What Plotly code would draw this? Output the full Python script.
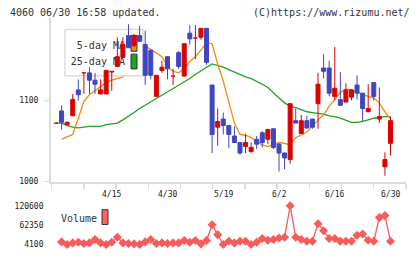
import plotly.graph_objects as go

# ---------------- data ----------------
date_idx = [10, 20, 30, 40, 50, 60]
date_labels = ["4/15", "4/30", "5/19", "6/2", "6/16", "6/30"]

opens = [1072, 1087, 1070, 1081, 1113, 1134, 1134, 1125, 1108, 1108,
         1135, 1142, 1153, 1180, 1168, 1180, 1169, 1162, 1105, 1137,
         1154, 1130, 1159, 1130, 1183, 1177, 1178, 1189, 1119, 1067,
         1077, 1069, 1056, 1048, 1043, 1037, 1052, 1060, 1052, 1065,
         1046, 1035, 1027, 1075, 1059, 1075, 1077, 1096, 1140, 1140,
         1105, 1101, 1098, 1104, 1119, 1109, 1086, 1122, 1077, 1018,
         1047]
highs = [1072, 1094, 1074, 1108, 1126, 1134.5, 1141, 1134, 1126, 1138,
         1136, 1178, 1178, 1194, 1182, 1192, 1186, 1162, 1131, 1149,
         1154, 1139, 1161, 1170, 1193, 1193, 1189, 1189, 1119, 1090,
         1085, 1069, 1068, 1048, 1059, 1048, 1056, 1062, 1065, 1065,
         1047, 1036, 1096, 1090, 1082, 1081, 1077, 1134, 1157, 1149,
         1166, 1135, 1121, 1114, 1131, 1109, 1120, 1122, 1116, 1036,
         1080]
lows = [1072, 1064, 1070, 1081, 1100, 1108, 1108, 1108, 1108, 1108,
        1112, 1142, 1153, 1165, 1166, 1173, 1119, 1126, 1105, 1134,
        1126, 1119, 1139, 1130, 1169, 1151, 1175, 1144, 1035, 1044,
        1058, 1041, 1048, 1033, 1035, 1035, 1040, 1042, 1046, 1040,
        1012, 1015, 1022, 1072, 1059, 1065, 1065, 1065, 1127, 1105,
        1100, 1094, 1098, 1100, 1101, 1074, 1086, 1100, 1072, 1007,
        1032]
closes = [1072, 1073, 1073, 1101, 1107, 1134.5, 1125, 1120, 1113, 1137,
          1136, 1154, 1169, 1165, 1180, 1173, 1131, 1131, 1131, 1141,
          1139, 1130.5, 1142, 1170, 1176, 1177.5, 1189, 1147, 1058, 1074,
          1069, 1058, 1048, 1035, 1048, 1042, 1046, 1048, 1064, 1042,
          1035, 1029, 1096, 1072, 1075, 1066, 1067, 1120, 1136, 1109,
          1115, 1094, 1113, 1113, 1109, 1090, 1090, 1105, 1080, 1027,
          1075]

ma5 = [None, 1052, 1055, 1058, 1078, 1099, 1107, 1112, 1118, 1122,
       1125, 1127, 1129, 1140, 1152, 1160, 1167, 1163, 1158, 1154,
       1142, 1136, 1134, 1139, 1148, 1154, 1162, 1171, 1170, 1145,
       1124, 1099, 1072, 1058, 1057, 1054, 1049, 1045, 1043, 1046,
       1048, 1047, 1045, 1054, 1057, 1061, 1068, 1076, 1082, 1093,
       1101, 1110, 1114, 1113, 1110, 1107, 1105, 1103, 1097, 1086,
       1077]
ma25 = [1072, 1072, 1069, 1067, 1066, 1067, 1068, 1068, 1068, 1070,
        1071, 1072, 1076, 1080, 1085, 1090, 1094, 1098, 1102, 1106,
        1111, 1115, 1119, 1123, 1127, 1132, 1137, 1141, 1145, 1143,
        1141, 1138, 1135, 1132, 1129, 1127, 1124, 1120, 1116, 1109,
        1103, 1097, 1093, 1091, 1088, 1086, 1085, 1084, 1083, 1081,
        1080, 1078, 1075, 1073, 1073, 1074, 1076, 1078, 1079, 1080,
        1080]
volume = [None, 11800, 4100, 8800, 10900, 7100, 8800, 18900, 8800, 4100,
          10900, 25700, 8800, 7100, 5900, 4100, 11800, 18900, 7100, 8800,
          7100, 8800, 8800, 15900, 10900, 15900, 5900, 15900, 63400, 33700,
          4100, 13900, 8800, 13900, 13900, 4100, 10900, 21900, 16800, 18900,
          23700, 25700, 120600, 25700, 18900, 13900, 13900, 66300, 45600, 21900,
          21900, 13900, 13900, 13900, 31700, 35500, 16800, 13900, 85000, 91000,
          13900]

price_ticks = [1000, 1100]
volume_ticks = [4100, 62350, 120600]

# ---------------- layout constants (pixels) ----------------
W, H = 420, 259
X0_PX, X1_PX = 50.5, 406.0
CANDLE0_PX, STEP_PX = 56.0, 5.575
PY_TOP, PY_BOT = 18.0, 185.0
VY_TOP, VY_BOT = 203.0, 253.0
x_range = [(X0_PX - CANDLE0_PX) / STEP_PX, (X1_PX - CANDLE0_PX) / STEP_PX]
price_range = [999.1, 1202.1]
vol_range = [-9830, 138380]

RED, BLUE = "#dc0000", "#3f46c0"
ORANGE, GREEN = "#f08c10", "#1ea51e"
VOLC = "#f65c5c"
FONT = "DejaVu Sans Mono"


def px_x(px):
    return x_range[0] + (px - X0_PX) / (X1_PX - X0_PX) * (x_range[1] - x_range[0])


def px_price(py):
    return price_range[0] + (PY_BOT - py) / (PY_BOT - PY_TOP) * (price_range[1] - price_range[0])


def rect(x0, y0, x1, y1):
    return ([px_x(x0), px_x(x1), px_x(x1), px_x(x0), px_x(x0)],
            [px_price(y0), px_price(y0), px_price(y1), px_price(y1), px_price(y0)])


n = len(opens)
idx = list(range(n))
half = 2.0 / STEP_PX

fig = go.Figure()

# moving averages
fig.add_trace(go.Scatter(x=idx, y=ma25, mode="lines", line=dict(color=GREEN, width=1.3),
                         xaxis="x", yaxis="y", hoverinfo="skip"))
fig.add_trace(go.Scatter(x=idx, y=ma5, mode="lines", line=dict(color=ORANGE, width=1.3),
                         xaxis="x", yaxis="y", hoverinfo="skip"))

# legend box: above the MA lines, below the candles
bx, by = rect(65, 30, 143, 77)
fig.add_trace(go.Scatter(x=bx, y=by, mode="lines", fill="toself", fillcolor="white",
                         line=dict(color="#dcdcdc", width=1.5), hoverinfo="skip"))
fig.add_trace(go.Scatter(x=[px_x(125), px_x(125)], y=[px_price(47.5), px_price(63.5)],
                         mode="text", text=["5-day MA", "25-day MA"], textposition="middle left",
                         textfont=dict(family=FONT, size=10, color="#333"), hoverinfo="skip"))
for (y0, y1, col) in [(36, 52, ORANGE), (55, 70, GREEN)]:
    sx, sy = rect(131, y0, 137, y1)
    fig.add_trace(go.Scatter(x=sx, y=sy, mode="lines", fill="toself", fillcolor=col,
                             line=dict(color="#333", width=1), hoverinfo="skip"))

# candles (red = close >= open, blue = close < open)
for col, cond in [(RED, lambda i: closes[i] >= opens[i]), (BLUE, lambda i: closes[i] < opens[i])]:
    sel = [i for i in idx if cond(i)]
    wx, wy, bxs, bys = [], [], [], []
    for i in sel:
        wx += [i, i, None]
        wy += [lows[i], highs[i], None]
        o, c = opens[i], closes[i]
        bxs += [i - half, i + half, i + half, i - half, i - half, None]
        bys += [o, o, c, c, o, None]
    fig.add_trace(go.Scatter(x=wx, y=wy, mode="lines", line=dict(color=col, width=1),
                             hoverinfo="skip"))
    fig.add_trace(go.Scatter(x=bxs, y=bys, mode="lines", fill="toself", fillcolor=col,
                             line=dict(color=col, width=1), hoverinfo="skip"))

# volume
fig.add_trace(go.Scatter(x=idx, y=volume, mode="lines+markers", xaxis="x2", yaxis="y2",
                         line=dict(color=VOLC, width=1.3),
                         marker=dict(symbol="diamond", size=7, color=VOLC),
                         hoverinfo="skip"))

xd = [X0_PX / W, X1_PX / W]
axis_common = dict(showgrid=False, zeroline=False, fixedrange=True)
fig.update_layout(
    width=W, height=H, autosize=False,
    margin=dict(l=0, r=0, t=0, b=0),
    paper_bgcolor="white", plot_bgcolor="white",
    showlegend=False,
    xaxis=dict(domain=xd, range=x_range, anchor="y", showline=True, linecolor="#dcdcdc",
               linewidth=1.5, ticks="outside", ticklen=5, tickcolor="#dcdcdc", tickwidth=1.5,
               tick0=px_x(51.7), dtick=32.2 / STEP_PX, tickmode="linear",
               showticklabels=False, **axis_common),
    yaxis=dict(domain=[1 - PY_BOT / H, 1 - PY_TOP / H], range=price_range, anchor="x",
               showline=True, linecolor="#dcdcdc", linewidth=1.5, ticks="outside", ticklen=5,
               tickcolor="#dcdcdc", tickwidth=1.5, tickvals=price_ticks,
               ticktext=[str(v) for v in price_ticks], ticklabelstandoff=4,
               tickfont=dict(family=FONT, size=8, color="#222"), **axis_common),
    xaxis2=dict(domain=xd, range=x_range, anchor="y2", showline=False, ticks="",
                showticklabels=False, **axis_common),
    yaxis2=dict(domain=[1 - VY_BOT / H, 1 - VY_TOP / H], range=vol_range, anchor="x2",
                showline=False, ticks="", tickvals=volume_ticks,
                ticktext=[str(v) for v in volume_ticks], ticklabelstandoff=6,
                tickfont=dict(family=FONT, size=8, color="#222"), **axis_common),
)

ann = [
    dict(text="4060 06/30 16:58 updated.", x=8 / W, y=1 - 12.5 / H, xanchor="left"),
    dict(text="(C)https://www.rizumu.net/", x=412 / W, y=1 - 12.5 / H, xanchor="right"),
    dict(text="Volume", x=59 / W, y=1 - 222 / H, xanchor="left"),
]
annotations = []
for a in ann:
    annotations.append(dict(text=a["text"], x=a["x"], y=a["y"], xref="paper", yref="paper",
                            xanchor=a["xanchor"], yanchor="middle", showarrow=False,
                            font=dict(family=FONT, size=10, color="#333")))
for d, lab in zip(date_idx, date_labels):
    annotations.append(dict(text=lab, x=d, y=1 - 198 / H, xref="x", yref="paper",
                            xanchor="center", yanchor="middle", showarrow=False,
                            font=dict(family=FONT, size=8, color="#222")))
fig.update_layout(annotations=annotations)
fig.add_shape(type="rect", xref="paper", yref="paper", x0=102 / W, x1=108 / W,
              y0=1 - 228 / H, y1=1 - 213 / H, fillcolor="#ff6262",
              line=dict(color="#333", width=1))

fig.write_html("out.html", config={"displayModeBar": False, "staticPlot": True},
               post_script="document.body.style.margin='0';")
